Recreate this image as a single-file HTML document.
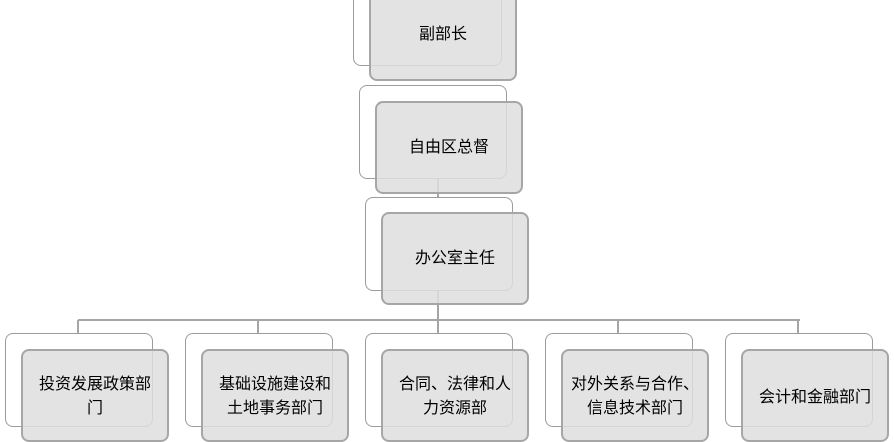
<!DOCTYPE html>
<html><head><meta charset="utf-8"><style>
body{margin:0;width:894px;height:415px;overflow:hidden;background:#fff;font-family:"Liberation Sans","Noto Sans CJK SC",sans-serif;position:relative}
.b{position:absolute;width:145px;height:91px;border:1.5px solid #9c9c9c;border-radius:8px;background:#fff;box-sizing:border-box}
.f{position:absolute;width:148px;height:93px;border:2px solid #a6a6a6;border-radius:8px;background:rgba(222,222,222,0.85);box-sizing:border-box;display:flex;align-items:center;justify-content:center;text-align:center;font-size:16px;line-height:24px;color:#000;padding:0;white-space:nowrap}
.l{position:absolute;background:#a6a6a6}
</style></head><body>
<div class="l" style="left:437px;top:290px;width:2px;height:31px"></div>
<div class="l" style="left:78px;top:319px;width:722px;height:2px"></div>
<div class="l" style="left:77px;top:320px;width:2px;height:14px"></div>
<div class="l" style="left:257px;top:320px;width:2px;height:14px"></div>
<div class="l" style="left:437px;top:320px;width:2px;height:14px"></div>
<div class="l" style="left:617px;top:320px;width:2px;height:14px"></div>
<div class="l" style="left:797px;top:320px;width:2px;height:14px"></div>
<div class="l" style="left:437px;top:178px;width:2px;height:20px"></div>

<div class="b" style="left:353px;top:-27px;width:149px;height:93px"></div>
<div class="f" style="left:369px;top:-12px;height:93px">副部长</div>
<div class="b" style="left:359px;top:85px;width:148px;height:94px"></div>
<div class="f" style="left:375px;top:101px;width:148px">自由区总督</div>
<div class="b" style="left:365px;top:197px;width:148px;height:94px"></div>
<div class="f" style="left:381px;top:212px;width:148px">办公室主任</div>

<div class="b" style="left:5px;top:333px;width:148px;height:94px"></div>
<div class="f" style="left:21px;top:349px;align-items:flex-start;padding-top:22px">投资发展政策部<br>门</div>
<div class="b" style="left:185px;top:333px;width:148px;height:94px"></div>
<div class="f" style="left:201px;top:349px;align-items:flex-start;padding-top:22px">基础设施建设和<br>土地事务部门</div>
<div class="b" style="left:365px;top:333px;width:148px;height:94px"></div>
<div class="f" style="left:381px;top:349px;align-items:flex-start;padding-top:22px">合同、法律和人<br>力资源部</div>
<div class="b" style="left:545px;top:333px;width:148px;height:94px"></div>
<div class="f" style="left:561px;top:349px;align-items:flex-start;padding-top:22px">对外关系与合作、<br>信息技术部门</div>
<div class="b" style="left:725px;top:333px;width:148px;height:94px"></div>
<div class="f" style="left:741px;top:349px;align-items:flex-start;padding-top:35px">会计和金融部门</div>
</body></html>
